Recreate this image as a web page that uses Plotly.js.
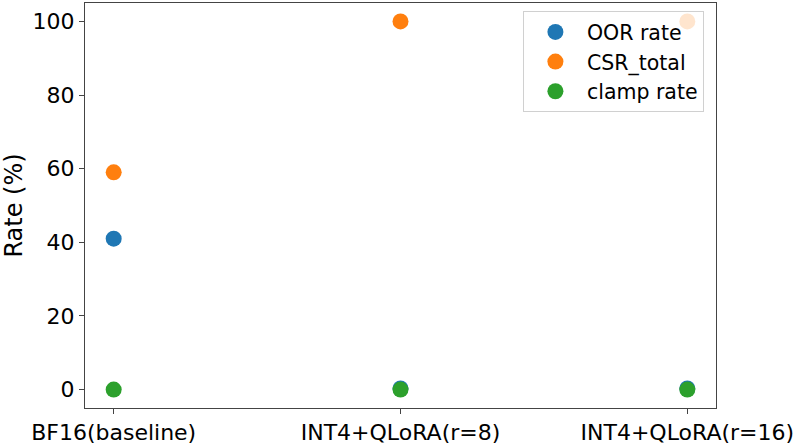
<!DOCTYPE html>
<html>
<head>
<meta charset="utf-8">
<script src="https://cdn.plot.ly/plotly-3.0.1.min.js"></script>
<style>html,body{margin:0;padding:0;background:#fff;}#chart{width:800px;height:447px;}</style>
</head>
<body>
<div id="chart"></div>
<script>
const categories = ["BF16(baseline)", "INT4+QLoRA(r=8)", "INT4+QLoRA(r=16)"];
const oorRate = [41, 0.3, 0.3];
const csrTotal = [59, 100, 100];
const clampRate = [0, 0, 0];
const seriesNames = ["OOR rate", "CSR_total", "clamp rate"];
const seriesColors = ["#1f77b4", "#ff7f0e", "#2ca02c"];
const yTicks = [0, 20, 40, 60, 80, 100];

const xIdx = categories.map((_, i) => i);
const seriesData = [oorRate, csrTotal, clampRate];
const traces = seriesData.map((vals, k) => ({
  type: "scatter",
  mode: "markers",
  x: xIdx,
  y: vals,
  name: seriesNames[k],
  marker: {color: seriesColors[k], size: 16, line: {width: 0}}
}));

const font = {family: "DejaVu Sans, sans-serif", color: "#000"};
const layout = {
  width: 800, height: 447,
  margin: {l: 85, r: 84, t: 3, b: 39},
  paper_bgcolor: "#fff", plot_bgcolor: "#fff",
  font: Object.assign({size: 22}, font),
  showlegend: true,
  legend: {
    x: 0.694, y: 0.98, xanchor: "left", yanchor: "top",
    bgcolor: "rgba(255,255,255,0.8)", bordercolor: "#d0d0d0", borderwidth: 1,
    font: Object.assign({size: 20.5}, font),
    tracegroupgap: 0, itemwidth: 53
  },
  xaxis: {
    range: [-0.1, 2.1],
    tickmode: "array", tickvals: xIdx, ticktext: categories,
    showgrid: false, zeroline: false,
    showline: true, mirror: true, linecolor: "#444", linewidth: 1,
    ticks: "outside", ticklen: 5, tickcolor: "#444",
    tickfont: Object.assign({size: 22}, font)
  },
  yaxis: {
    range: [-5, 105],
    tickmode: "array", tickvals: yTicks, ticktext: yTicks.map(String),
    showgrid: false, zeroline: false,
    showline: true, mirror: true, linecolor: "#444", linewidth: 1,
    ticks: "outside", ticklen: 5, tickcolor: "#444",
    tickfont: Object.assign({size: 22}, font),
    title: {text: "Rate (%)", font: Object.assign({size: 24}, font), standoff: 8}
  }
};
Plotly.newPlot("chart", traces, layout, {displayModeBar: false, staticPlot: true});
</script>
</body>
</html>
